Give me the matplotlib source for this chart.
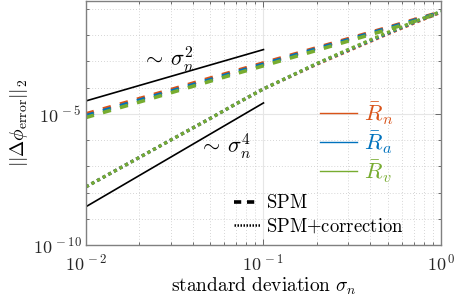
import numpy as np
import matplotlib
matplotlib.use("Agg")
import matplotlib.pyplot as plt
from matplotlib.lines import Line2D
from matplotlib.ticker import FixedLocator, FuncFormatter, NullFormatter

plt.rcParams['mathtext.fontset'] = 'cm'
plt.rcParams['font.family'] = ['DejaVu Sans']

# ---------------------------
# data
# ---------------------------
sigma = [0.01, 0.02, 0.03, 0.05, 0.07, 0.1, 0.2, 0.3, 0.5, 0.7, 1.0]

# SPM (dashed)
spm_Rn = [1.0e-5, 3.8e-5, 8.3e-5, 2.29e-4, 4.37e-4, 8.7e-4, 3.31e-3, 7.24e-3, 1.95e-2, 3.8e-2, 7.59e-2]
spm_Ra = [8.5e-6, 3.31e-5, 7.24e-5, 2.0e-4, 3.89e-4, 7.76e-4, 3.02e-3, 6.61e-3, 1.82e-2, 3.55e-2, 7.41e-2]
spm_Rv = [7.24e-6, 2.82e-5, 6.31e-5, 1.74e-4, 3.39e-4, 6.76e-4, 2.63e-3, 5.89e-3, 1.62e-2, 3.24e-2, 7.08e-2]

# SPM+correction (dotted)
cor_Rn = [1.66e-8, 2.19e-7, 1.0e-6, 6.61e-6, 2.40e-5, 8.91e-5, 7.76e-4, 2.51e-3, 1.10e-2, 2.82e-2, 7.41e-2]
cor_Ra = [1.66e-8, 2.19e-7, 1.0e-6, 6.61e-6, 2.40e-5, 8.91e-5, 8.13e-4, 2.69e-3, 1.17e-2, 3.02e-2, 7.76e-2]
cor_Rv = [1.66e-8, 2.19e-7, 1.0e-6, 6.61e-6, 2.40e-5, 8.91e-5, 8.32e-4, 2.82e-3, 1.26e-2, 3.16e-2, 7.94e-2]

# reference slopes
ref_x = [0.01, 0.1]
ref_sig2 = [3.1e-5, 2.8e-3]
ref_sig4 = [2.9e-9, 2.6e-5]

labels = [r'$\bar{R}_n$', r'$\bar{R}_a$', r'$\bar{R}_v$']
colors = ['#D95319', '#0072BD', '#77AC30']

fig = plt.figure(figsize=(4.57, 3.03), dpi=100)
ax = fig.add_axes([0.188, 0.191, 0.777, 0.806])

lw = 2.6
for y, c in zip([spm_Rn, spm_Ra, spm_Rv], colors):
    ax.plot(sigma, y, color=c, lw=lw, dashes=(2.3, 2.6), solid_capstyle='butt')
for y, c in zip([cor_Rn, cor_Ra, cor_Rv], colors):
    ax.plot(sigma, y, color=c, lw=2.3, linestyle=(0, (1, 1)))

ax.plot(ref_x, ref_sig2, color='k', lw=1.2)
ax.plot(ref_x, ref_sig4, color='k', lw=1.2)
ax.text(0.029, 1.2e-3, r'$\sim\,\sigma_n^2$', fontsize=16, ha='center', va='center')
ax.text(0.061, 6.0e-7, r'$\sim\,\sigma_n^4$', fontsize=16, ha='center', va='center')

ax.set_xscale('log')
ax.set_yscale('log')
ax.set_xlim(1e-2, 1)
ax.set_ylim(1e-10, 0.2)

ax.xaxis.set_major_locator(FixedLocator([1e-2, 1e-1, 1e0]))
ax.xaxis.set_minor_locator(FixedLocator([m * d for d in [1e-2, 1e-1] for m in range(2, 10)]))
ax.yaxis.set_major_locator(FixedLocator([1e-10, 1e-5, 1e0]))
ax.yaxis.set_minor_locator(FixedLocator([10.0 ** e for e in [-9, -8, -7, -6, -4, -3, -2, -1]]))
fmt = FuncFormatter(lambda v, p: r'$\mathsf{10^{\,%d}}$' % int(round(np.log10(v))))
ax.xaxis.set_major_formatter(fmt)
ax.yaxis.set_major_formatter(fmt)
ax.xaxis.set_minor_formatter(NullFormatter())
ax.yaxis.set_minor_formatter(NullFormatter())
ax.tick_params(which='both', direction='in', top=True, right=True, labelsize=13,
               color='#555555', labelcolor='#262626')
ax.tick_params(which='major', length=4, width=0.6)
ax.tick_params(which='minor', length=2.5, width=0.6)
ax.tick_params(axis='x', pad=6)
ax.tick_params(axis='y', pad=3)

ax.grid(True, which='major', color='#e6e6e6', lw=0.8, ls='-')
ax.grid(True, which='minor', color='#c8c8c8', lw=0.6, ls=(0, (1, 2.5)))
ax.set_axisbelow(True)
for s in ax.spines.values():
    s.set_color('#808080')
    s.set_linewidth(1.0)

ax.set_xlabel(r'$\mathrm{standard\ deviation}\ \sigma_n$', fontsize=14, labelpad=1)
ax.set_ylabel(r'$||\Delta\phi_{\mathrm{error}}||_2$', fontsize=14, labelpad=2)

h1 = [Line2D([], [], color=c, lw=1.0) for c in colors]
leg1 = ax.legend(h1, labels, loc='center left', bbox_to_anchor=(0.6, 0.42),
                 frameon=False, fontsize=16.5, handlelength=1.65, handletextpad=0.3,
                 labelspacing=0.12, labelcolor='linecolor')
ax.add_artist(leg1)

h2 = [Line2D([], [], color='k', lw=2.6, dashes=(2.0, 1.6)),
      Line2D([], [], color='k', lw=1.8, linestyle=(0, (0.6, 0.6)))]
ax.legend(h2, [r'$\mathrm{SPM}$', r'$\mathrm{SPM{+}correction}$'], loc='center left',
          bbox_to_anchor=(0.37, 0.125), frameon=False, fontsize=13.5, handlelength=1.4,
          handletextpad=0.3, labelspacing=0.25)

fig.savefig('out.png', dpi=100)
